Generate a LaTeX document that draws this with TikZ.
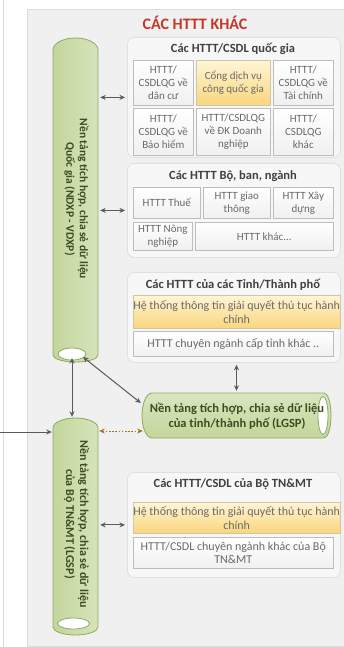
\documentclass[tikz,border=0pt]{standalone}
\usepackage{fontspec}
\setmainfont{Carlito}
\usetikzlibrary{arrows.meta}
\definecolor{panelc}{HTML}{F0F0F0}
\definecolor{panelb}{HTML}{DCDCDC}
\definecolor{grpf}{HTML}{F7F7F7}
\definecolor{grpb}{HTML}{E0E0E0}
\definecolor{cellb}{HTML}{BDBDBD}
\definecolor{celltxt}{HTML}{6A6A6A}
\definecolor{grptxt}{HTML}{404040}
\definecolor{titlered}{HTML}{C0392B}
\definecolor{yeltop}{HTML}{FFF5D6}
\definecolor{yelbot}{HTML}{F9D67C}
\definecolor{yelb}{HTML}{CFC6A8}
\definecolor{cylL}{HTML}{C3D69C}
\definecolor{cylR}{HTML}{D6E4BA}
\definecolor{cylb}{HTML}{8FA862}
\definecolor{cyltxt}{HTML}{3F4B22}
\definecolor{arrc}{HTML}{5A5A5A}
\definecolor{dotc}{HTML}{9A7B1E}
\definecolor{cellbot}{HTML}{F0F0F0}
\definecolor{hcyltop}{HTML}{D8E6BF}
\definecolor{hcylbot}{HTML}{C2D69C}
\begin{document}
\begin{tikzpicture}[x=1pt,y=-1pt,
  grp/.style={draw=grpb, fill=grpf, rounded corners=7pt, line width=0.8pt, inner sep=0pt},
  cell/.style={draw=cellb, top color=white, bottom color=cellbot, line width=0.6pt,
    inner sep=0pt, anchor=north west, align=center, text=celltxt,
    font=\fontsize{11}{13}\selectfont},
  widecell/.style={cell, font=\fontsize{12}{13.5}\selectfont},
  ycell/.style={cell, draw=yelb, top color=yeltop, bottom color=yelbot},
  gtitle/.style={text=grptxt, font=\fontsize{12.5}{14}\selectfont\bfseries, inner sep=0pt},
  cyltext/.style={text=cyltxt, font=\fontsize{11.5}{13.5}\selectfont\bfseries, align=center, inner sep=0pt},
  cylshape/.style={draw=cylb, line width=0.8pt, left color=cylL, right color=cylR},
  hole/.style={draw=cylb, line width=0.8pt, fill=white},
  arr/.style={draw=arrc, line width=1pt, {Stealth[length=5.5pt,width=5pt]}-{Stealth[length=5.5pt,width=5pt]}},
  onearr/.style={draw=arrc, line width=1pt, -{Stealth[length=5.5pt,width=5pt]}},
  dotarr/.style={draw=dotc, line width=1pt, dash pattern=on 1.6pt off 1.6pt, {Stealth[length=5.5pt,width=5pt]}-{Stealth[length=5.5pt,width=5pt]}}
]
\useasboundingbox (0,0) rectangle (344,647);
\fill[white] (0,0) rectangle (344,647);
\draw[panelb, line width=0.8pt] (3,0) -- (3,647);
\draw[panelb, fill=panelc, line width=0.8pt] (27,9) rectangle (347,646);

\node[text=titlered, font=\fontsize{16}{18}\selectfont\bfseries, inner sep=0pt] (title) at (195,23) {CÁC HTTT KHÁC};

% group boxes
\node[grp, minimum width=213pt, minimum height=120pt, anchor=north west] (g1) at (127,37) {};
\node[grp, minimum width=213pt, minimum height=94pt, anchor=north west] (g2) at (127,163) {};
\node[grp, minimum width=213pt, minimum height=90pt, anchor=north west] (g3) at (127,272) {};
\node[grp, minimum width=213pt, minimum height=105pt, anchor=north west] (g4) at (127,472) {};

% group 1
\node[gtitle] (t1) at (233,49) {Các HTTT/CSDL quốc gia};
\node[cell, minimum width=60pt, minimum height=45pt] (c11) at (133,60) {HTTT/\\CSDLQG về\\dân cư};
\node[ycell, minimum width=74pt, minimum height=45pt] (c12) at (196,60) {Cổng dịch vụ\\công quốc gia};
\node[cell, minimum width=60pt, minimum height=45pt] (c13) at (273,60) {HTTT/\\CSDLQG về\\Tài chính};
\node[cell, minimum width=60pt, minimum height=47pt] (c21) at (133,108) {HTTT/\\CSDLQG về\\Bảo hiểm};
\node[cell, minimum width=74pt, minimum height=47pt] (c22) at (196,108) {HTTT/CSDLQG\\về ĐK Doanh\\nghiệp};
\node[cell, minimum width=60pt, minimum height=47pt] (c23) at (273,108) {HTTT/\\CSDLQG\\khác};

% group 2
\node[gtitle] (t2) at (233,176) {Các HTTT Bộ, ban, ngành};
\node[cell, minimum width=67pt, minimum height=31pt] (b11) at (133,187) {HTTT Thuế};
\node[cell, minimum width=67pt, minimum height=31pt] (b12) at (203,187) {HTTT giao\\thông};
\node[cell, minimum width=60pt, minimum height=31pt] (b13) at (273,187) {HTTT Xây\\dựng};
\node[cell, minimum width=59pt, minimum height=28pt] (b21) at (133,222) {HTTT Nông\\nghiệp};
\node[cell, minimum width=138pt, minimum height=28pt] (b22) at (195,222) {HTTT khác...};

% group 3
\node[gtitle] (t3) at (233,285) {Các HTTT của các Tỉnh/Thành phố};
\node[widecell, ycell, font=\fontsize{12}{13.5}\selectfont, minimum width=200pt, minimum height=33pt] (p1) at (133,295) {Hệ thống thông tin giải quyết thủ tục hành\\chính};
\node[widecell, minimum width=200pt, minimum height=25pt] (p2) at (133,331) {HTTT chuyên ngành cấp tỉnh khác ..};

% group 4
\node[gtitle] (t4) at (233,484) {Các HTTT/CSDL của Bộ TN\&MT};
\node[widecell, ycell, font=\fontsize{12}{13.5}\selectfont, minimum width=200pt, minimum height=31pt] (m1) at (133,502) {Hệ thống thông tin giải quyết thủ tục hành\\chính};
\node[widecell, minimum width=200pt, minimum height=31pt] (m2) at (133,537) {HTTT/CSDL chuyên ngành khác của Bộ\\TN\&MT};

% cylinder 1 (NDXP)
\path[cylshape] (53,50) -- (53,355) arc[start angle=180,end angle=0,x radius=22.5,y radius=7]
  -- (98,50) arc[start angle=0,end angle=-180,x radius=22.5,y radius=12] -- cycle;
\draw[hole] (72,354) ellipse[x radius=14, y radius=6];
\node[minimum width=45pt, minimum height=324pt, inner sep=0pt] (ndxp) at (75.5,200) {};
\node[cyltext, rotate=-90] (ndxpt) at (76.5,199) {Nền tảng tích hợp, chia sẻ dữ liệu\\Quốc gia (NDXP - VDXP)};

% cylinder 2 (TN&MT LGSP)
\path[cylshape] (53,428) -- (53,627) arc[start angle=180,end angle=0,x radius=22.5,y radius=8]
  -- (98,428) arc[start angle=0,end angle=-180,x radius=22.5,y radius=10] -- cycle;
\draw[hole] (73.5,623.5) ellipse[x radius=16, y radius=5.5];
\node[minimum width=45pt, minimum height=217pt, inner sep=0pt] (tnmt) at (75.5,526.5) {};
\node[cyltext, rotate=-90, font=\fontsize{12}{14}\selectfont\bfseries] (tnmtt) at (76.5,524) {Nền tảng tích hợp, chia sẻ dữ liệu\\của Bộ TN\&MT (LGSP)};

% horizontal cylinder (LGSP)
\path[draw=cylb, line width=0.8pt, top color=hcyltop, bottom color=hcylbot]
  (152,393) -- (324,393) arc[start angle=-90,end angle=90,x radius=7,y radius=22.5]
  -- (152,438) arc[start angle=90,end angle=270,x radius=10,y radius=22.5] -- cycle;
\draw[hole] (323,415.5) ellipse[x radius=5, y radius=19];
\node[minimum width=189pt, minimum height=45pt, inner sep=0pt] (lgsp) at (236.5,415.5) {};
\node[cyltext, font=\fontsize{12.5}{15}\selectfont\bfseries] (lgspt) at (237,416) {Nền tảng tích hợp, chia sẻ dữ liệu\\của tỉnh/thành phố (LGSP)};

% connectors
\coordinate (nb) at (72,358);
\coordinate (nbr) at (83,357);
\coordinate (src) at (0,432);
\coordinate (dl) at (0,431);
\draw[arr] ([xshift=2pt]ndxp.east |- g1.west) -- ([xshift=-2pt]g1.west);
\draw[arr] ([xshift=2pt]ndxp.east |- g2.west) -- ([xshift=-2pt]g2.west);
\draw[arr] ([xshift=2pt]tnmt.east |- g4.west) -- ([xshift=-2pt]g4.west);
\draw[arr] (nb) -- ([yshift=1pt]tnmt.north -| nb);
\draw[arr] (nbr) -- ([xshift=-1pt,yshift=12.5pt]lgsp.west);
\draw[arr] ([yshift=-2pt]lgsp.north |- g3.south) -- ([yshift=2pt]lgsp.north);
\draw[dotarr] ([xshift=1pt]tnmt.east |- dl) -- ([xshift=1pt]lgsp.west |- dl);
\draw[onearr] (src) -- ([xshift=-1pt]tnmt.west |- src);
\end{tikzpicture}
\end{document}
